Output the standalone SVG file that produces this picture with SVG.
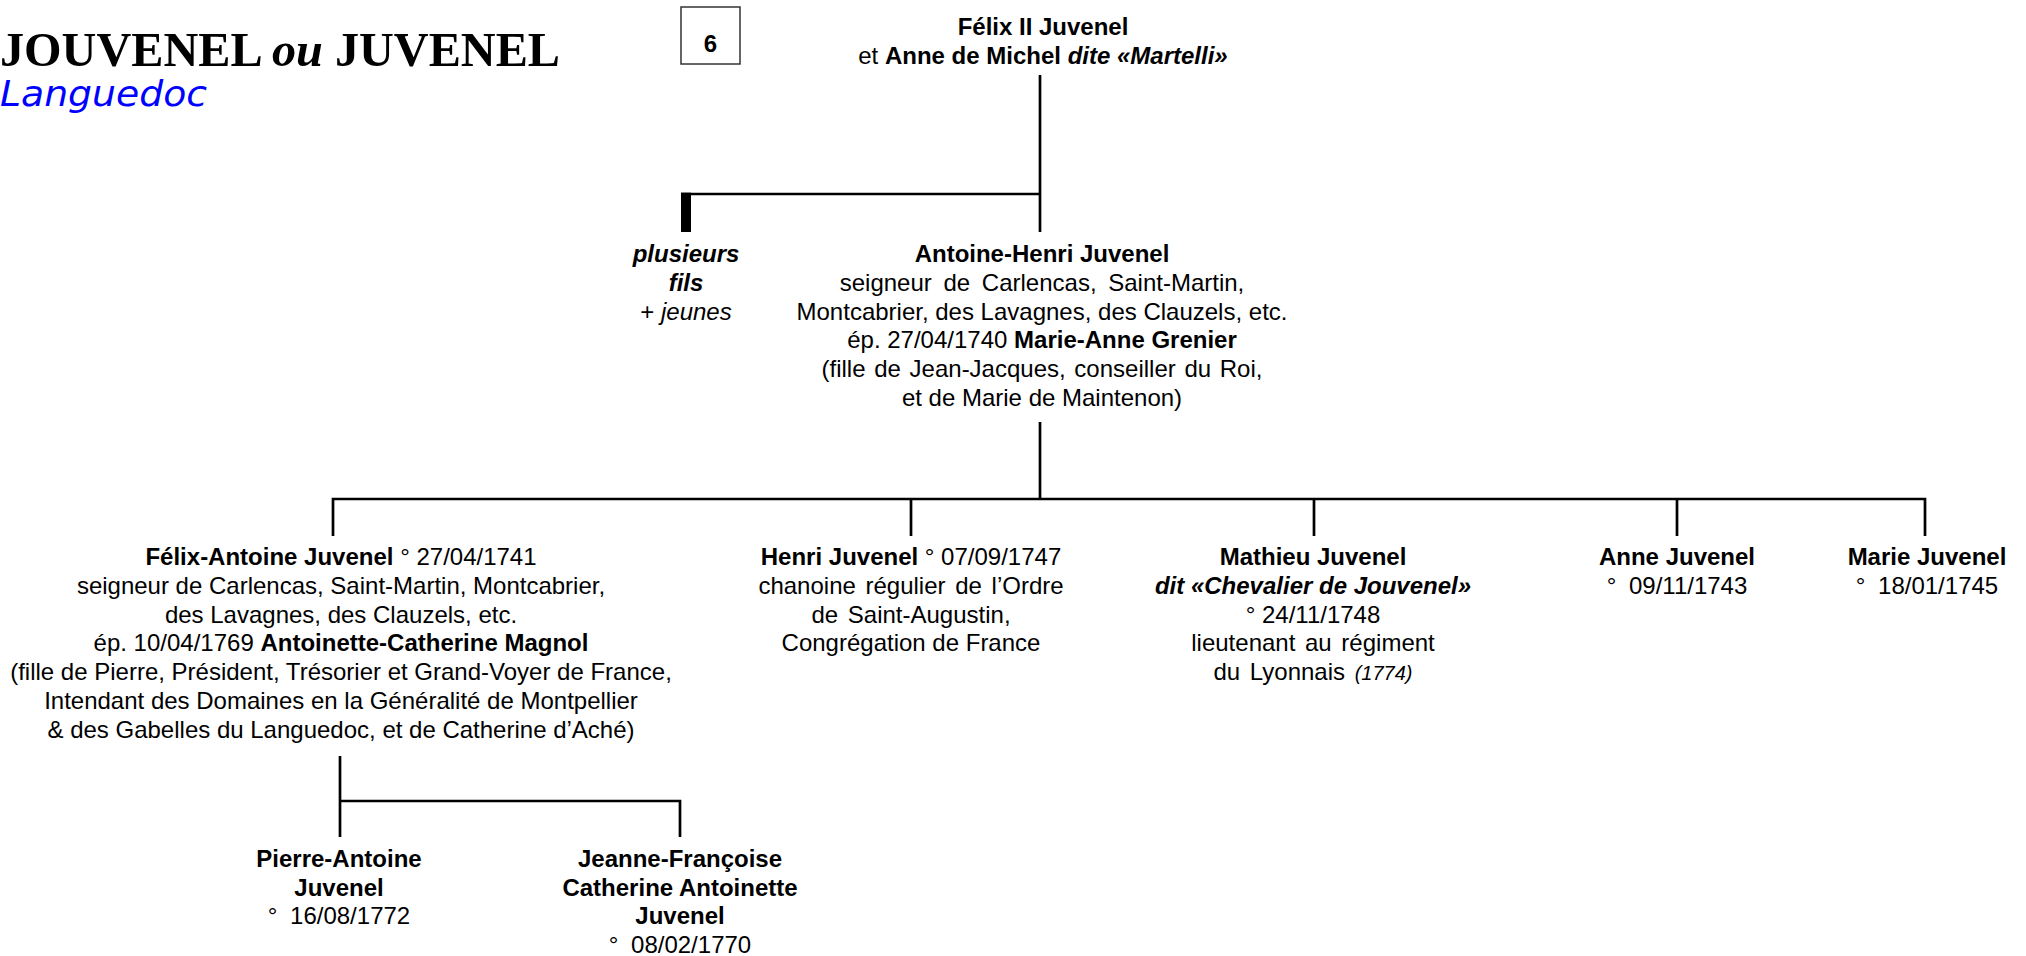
<svg xmlns="http://www.w3.org/2000/svg" width="2026" height="956" viewBox="0 0 2026 956">
<style>
.t{font-family:"Liberation Sans",Arial,sans-serif;font-size:24px;fill:#000;text-anchor:middle}
.b{font-weight:bold}
.i{font-style:italic}
.sm{font-size:20px}
.ln{fill:none;stroke:#000;stroke-width:2.7}
</style>
<rect width="2026" height="956" fill="#fff"/>
<g id="title">
<text x="0" y="66" font-family="Liberation Serif,'Times New Roman',serif" font-size="48" font-weight="bold" textLength="560" lengthAdjust="spacingAndGlyphs">JOUVENEL <tspan font-style="italic">ou</tspan> JUVENEL</text>
<text x="0" y="106" font-family="DejaVu Sans,Verdana,sans-serif" font-size="36" font-style="italic" fill="#0000ff" textLength="207" lengthAdjust="spacingAndGlyphs">Languedoc</text>
</g>
<g id="box6">
<rect x="681" y="7" width="59" height="57" fill="#fff" stroke="#333" stroke-width="1.5"/>
<text x="710.5" y="52" class="t b" font-size="28">6</text>
</g>
<g id="connectors">
<path class="ln" d="M1040,75V232"/>
<path class="ln" d="M681,194H1040"/>
<rect x="681" y="192.7" width="10" height="39.3" fill="#000"/>
<path class="ln" d="M1040,422V499"/>
<path class="ln" d="M333,536V499H1925V536"/>
<path class="ln" d="M911,499V536M1314,499V536M1677,499V536"/>
<path class="ln" d="M340,756V837"/>
<path class="ln" d="M340,801H680V837"/>
</g>
<g id="n-felix2">
<text x="1043" y="35" class="t b">Félix II Juvenel</text>
<text x="1043" y="63.5" class="t">et <tspan class="b">Anne de Michel</tspan> <tspan class="b i">dite «Martelli»</tspan></text>
</g>
<g id="n-plusieurs">
<text x="686" y="262" class="t b i">plusieurs</text>
<text x="686" y="290.8" class="t b i">fils</text>
<text x="686" y="319.6" class="t">+ <tspan class="i">jeunes</tspan></text>
</g>
<g id="n-antoine-henri">
<text x="1042" y="262" class="t b">Antoine-Henri Juvenel</text>
<text x="1042" y="290.8" class="t" word-spacing="5">seigneur de Carlencas, Saint-Martin,</text>
<text x="1042" y="319.6" class="t">Montcabrier, des Lavagnes, des Clauzels, etc.</text>
<text x="1042" y="348.4" class="t">ép. 27/04/1740 <tspan class="b">Marie-Anne Grenier</tspan></text>
<text x="1042" y="377.2" class="t" word-spacing="2">(fille de Jean-Jacques, conseiller du Roi,</text>
<text x="1042" y="406" class="t">et de Marie de Maintenon)</text>
</g>
<g id="n-felix-antoine">
<text x="341" y="565" class="t"><tspan class="b">Félix-Antoine Juvenel</tspan> ° 27/04/1741</text>
<text x="341" y="593.8" class="t">seigneur de Carlencas, Saint-Martin, Montcabrier,</text>
<text x="341" y="622.6" class="t">des Lavagnes, des Clauzels, etc.</text>
<text x="341" y="651.4" class="t">ép. 10/04/1769 <tspan class="b">Antoinette-Catherine Magnol</tspan></text>
<text x="341" y="680.2" class="t">(fille de Pierre, Président, Trésorier et Grand-Voyer de France,</text>
<text x="341" y="709" class="t">Intendant des Domaines en la Généralité de Montpellier</text>
<text x="341" y="737.8" class="t">&amp; des Gabelles du Languedoc, et de Catherine d’Aché)</text>
</g>
<g id="n-henri">
<text x="911" y="565" class="t"><tspan class="b">Henri Juvenel</tspan> ° 07/09/1747</text>
<text x="911" y="593.8" class="t" word-spacing="3">chanoine régulier de l’Ordre</text>
<text x="911" y="622.6" class="t" word-spacing="3">de Saint-Augustin,</text>
<text x="911" y="651.4" class="t">Congrégation de France</text>
</g>
<g id="n-mathieu">
<text x="1313" y="565" class="t b">Mathieu Juvenel</text>
<text x="1313" y="593.8" class="t b i">dit «Chevalier de Jouvenel»</text>
<text x="1313" y="622.6" class="t">° 24/11/1748</text>
<text x="1313" y="651.4" class="t" word-spacing="3">lieutenant au régiment</text>
<text x="1313" y="680.2" class="t" word-spacing="3">du Lyonnais <tspan class="i sm">(1774)</tspan></text>
</g>
<g id="n-anne">
<text x="1677" y="565" class="t b">Anne Juvenel</text>
<text x="1677" y="593.8" class="t" word-spacing="6">° 09/11/1743</text>
</g>
<g id="n-marie">
<text x="1927" y="565" class="t b">Marie Juvenel</text>
<text x="1927" y="593.8" class="t" word-spacing="6">° 18/01/1745</text>
</g>
<g id="n-pierre-antoine">
<text x="339" y="867" class="t b">Pierre-Antoine</text>
<text x="339" y="895.5" class="t b">Juvenel</text>
<text x="339" y="924" class="t" word-spacing="6">° 16/08/1772</text>
</g>
<g id="n-jeanne-francoise">
<text x="680" y="867" class="t b">Jeanne-Françoise</text>
<text x="680" y="895.5" class="t b">Catherine Antoinette</text>
<text x="680" y="924" class="t b">Juvenel</text>
<text x="680" y="952.5" class="t" word-spacing="6">° 08/02/1770</text>
</g>
</svg>
